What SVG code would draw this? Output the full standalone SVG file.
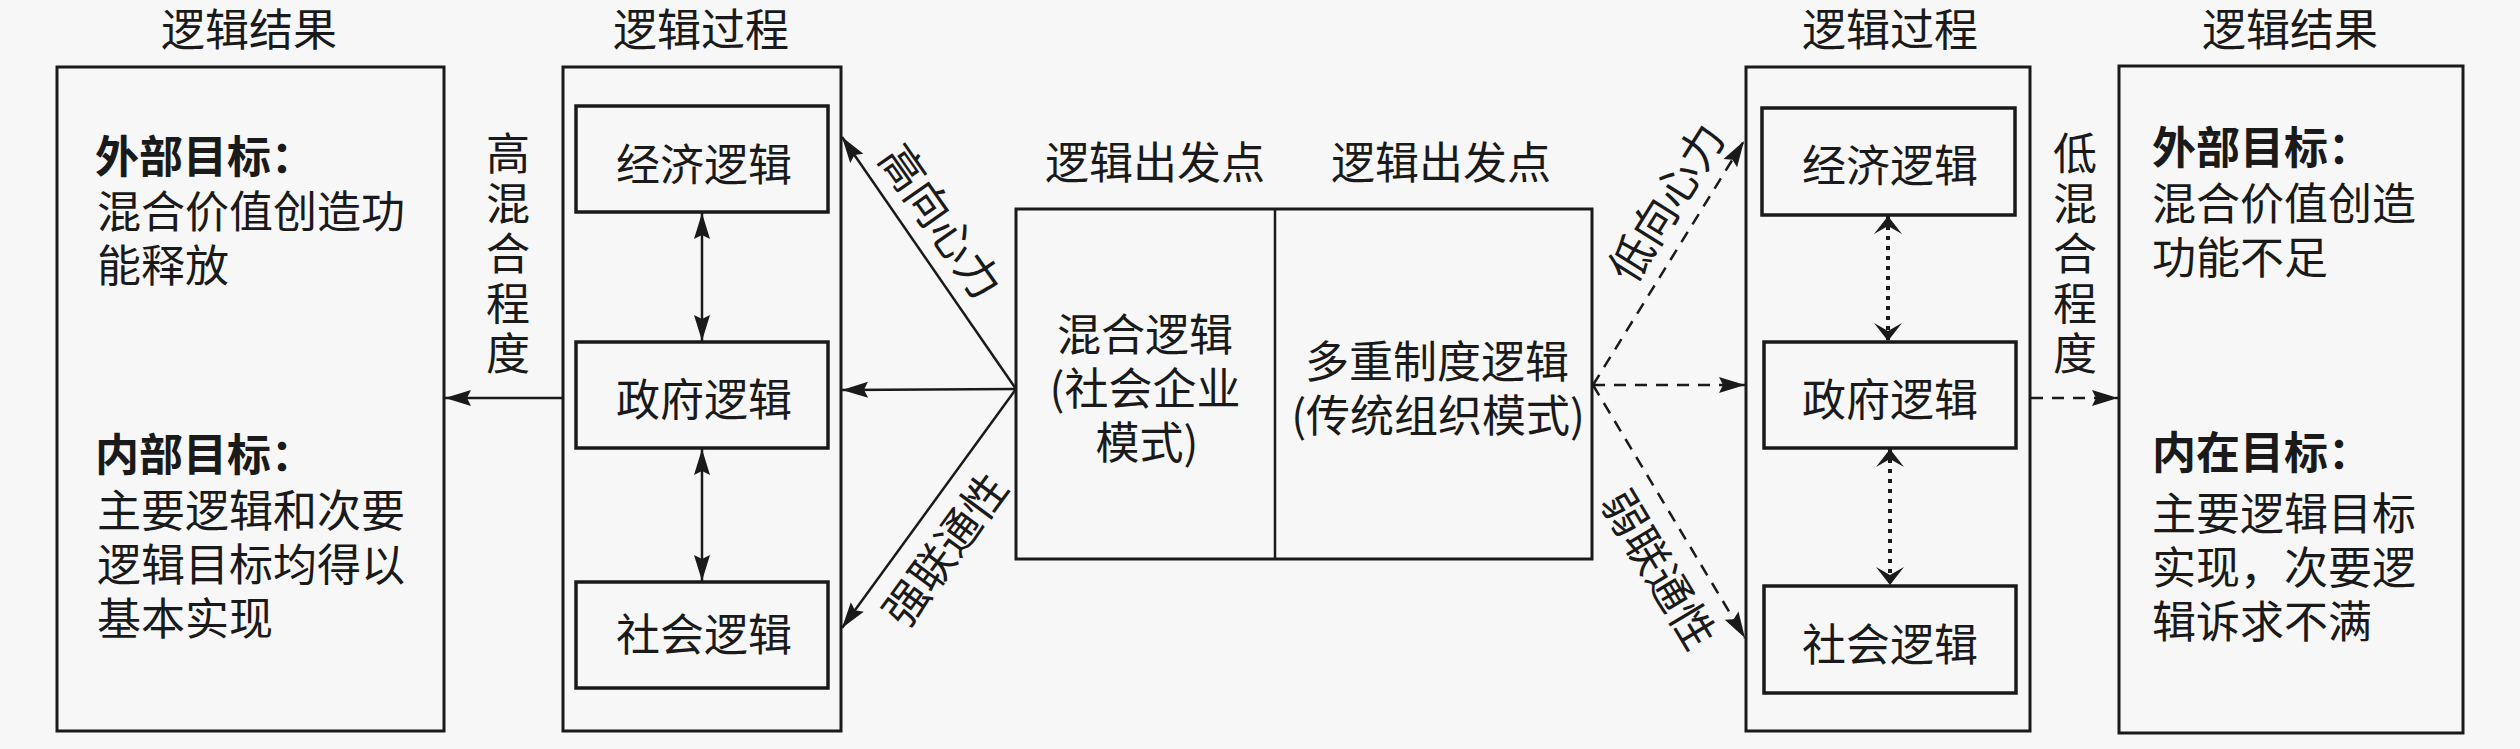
<svg xmlns="http://www.w3.org/2000/svg" width="2520" height="749" viewBox="0 0 2520 749">
<style>
.bg{fill:#f7f7f7}
.box{fill:#f7f7f7;stroke:#1a1a1a;stroke-width:3}
.ibox{fill:#f7f7f7;stroke:#1a1a1a;stroke-width:3.5}
.t{font-family:"Noto Sans CJK SC","Noto Sans CJK JP",sans-serif;font-size:44px;fill:#1a1a1a}
.m{text-anchor:middle}
.c{dominant-baseline:central}
.b{font-weight:bold}
.v{writing-mode:vertical-rl;letter-spacing:6px}
.ln{stroke:#1a1a1a;stroke-width:2.5;fill:none}
.dash{stroke-dasharray:12 9}
.dot{stroke-width:4;stroke-dasharray:4 6}
.ah{fill:#1a1a1a}
</style>
<defs>
<marker id="arr" viewBox="0 0 28 18" refX="27" refY="9" markerWidth="28" markerHeight="18" markerUnits="userSpaceOnUse" orient="auto-start-reverse">
<path class="ah" d="M27,9 L1,1 L5,9 L1,17 Z"/>
</marker>
<marker id="barb" viewBox="0 0 20 30" refX="19" refY="15" markerWidth="20" markerHeight="30" markerUnits="userSpaceOnUse" orient="auto-start-reverse">
<path class="ah" d="M19,15 L1,1 L9,15 L1,29 Z"/>
</marker>
</defs>
<rect class="bg" x="0" y="0" width="2520" height="749"/>

<g id="left-result">
<text class="t m" x="249" y="46">逻辑结果</text>
<rect class="box" x="57" y="67" width="387" height="664"/>
<text class="t b" x="95" y="173">外部目标：</text>
<text class="t"><tspan x="97" y="228">混合价值创造功</tspan><tspan x="97" y="282">能释放</tspan></text>
<text class="t b" x="95" y="471">内部目标：</text>
<text class="t"><tspan x="97" y="527">主要逻辑和次要</tspan><tspan x="97" y="581">逻辑目标均得以</tspan><tspan x="97" y="635">基本实现</tspan></text>
</g>

<g id="left-degree">
<text class="t v" x="508" y="131">高混合程度</text>
</g>

<g id="left-process">
<text class="t m" x="701" y="46">逻辑过程</text>
<rect class="box" x="563" y="67" width="278" height="664"/>
</g>
<g id="left-economic">
<rect class="ibox" x="576" y="106" width="252" height="106"/>
<text class="t m c" x="704" y="162">经济逻辑</text>
</g>
<g id="left-government">
<rect class="ibox" x="576" y="342" width="252" height="106"/>
<text class="t m c" x="704" y="397">政府逻辑</text>
</g>
<g id="left-social">
<rect class="ibox" x="576" y="582" width="252" height="106"/>
<text class="t m c" x="704" y="632">社会逻辑</text>
</g>

<g id="start">
<text class="t m" x="1155" y="179">逻辑出发点</text>
<text class="t m" x="1441" y="179">逻辑出发点</text>
<rect class="box" x="1016" y="209" width="576" height="350"/>
<line class="ln" x1="1275" y1="209" x2="1275" y2="559"/>
<text class="t m"><tspan x="1145" y="351">混合逻辑</tspan><tspan x="1145" y="405">(社会企业</tspan><tspan x="1147" y="459">模式)</tspan></text>
<text class="t m"><tspan x="1437" y="378">多重制度逻辑</tspan><tspan x="1438" y="432">(传统组织模式)</tspan></text>
</g>

<g id="right-process">
<text class="t m" x="1890" y="46">逻辑过程</text>
<rect class="box" x="1746" y="67" width="284" height="664"/>
</g>
<g id="right-economic">
<rect class="ibox" x="1762" y="108" width="253" height="107"/>
<text class="t m c" x="1890" y="163">经济逻辑</text>
</g>
<g id="right-government">
<rect class="ibox" x="1764" y="342" width="252" height="106"/>
<text class="t m c" x="1890" y="397">政府逻辑</text>
</g>
<g id="right-social">
<rect class="ibox" x="1764" y="586" width="252" height="107"/>
<text class="t m c" x="1890" y="642">社会逻辑</text>
</g>

<g id="right-degree">
<text class="t v" x="2075" y="131">低混合程度</text>
</g>

<g id="right-result">
<text class="t m" x="2290" y="46">逻辑结果</text>
<rect class="box" x="2119" y="66" width="344" height="667"/>
<text class="t b" x="2152" y="164">外部目标：</text>
<text class="t"><tspan x="2152" y="220">混合价值创造</tspan><tspan x="2152" y="274">功能不足</tspan></text>
<text class="t b" x="2152" y="469">内在目标：</text>
<text class="t"><tspan x="2152" y="530">主要逻辑目标</tspan><tspan x="2152" y="584">实现，次要逻</tspan><tspan x="2152" y="638">辑诉求不满</tspan></text>
</g>

<g id="connectors">
<line class="ln" x1="563" y1="398" x2="445" y2="398" marker-end="url(#arr)"/>
<line class="ln" x1="702" y1="213" x2="702" y2="341" marker-start="url(#arr)" marker-end="url(#arr)"/>
<line class="ln" x1="702" y1="449" x2="702" y2="581" marker-start="url(#arr)" marker-end="url(#arr)"/>
<line class="ln" x1="1016" y1="389" x2="842" y2="137" marker-end="url(#arr)"/>
<line class="ln" x1="1016" y1="389" x2="842" y2="390" marker-end="url(#arr)"/>
<line class="ln" x1="1016" y1="389" x2="842" y2="628" marker-end="url(#arr)"/>
<line class="ln dash" x1="1593" y1="385" x2="1744" y2="141" marker-end="url(#arr)"/>
<line class="ln dash" x1="1593" y1="385" x2="1745" y2="385" marker-end="url(#arr)"/>
<line class="ln dash" x1="1593" y1="385" x2="1745" y2="638" marker-end="url(#arr)"/>
<line class="ln dash" x1="2031" y1="398" x2="2118" y2="398" marker-end="url(#arr)"/>
<line class="ln dot" x1="1888" y1="216" x2="1888" y2="341" marker-start="url(#barb)" marker-end="url(#barb)"/>
<line class="ln dot" x1="1890" y1="449" x2="1890" y2="585" marker-start="url(#barb)" marker-end="url(#barb)"/>
<text class="t m c" transform="translate(943,220) rotate(55)">高向心力</text>
<text class="t m c" transform="translate(943,548) rotate(-53.7)">强联通性</text>
<text class="t m c" transform="translate(1664,201) rotate(-58)">低向心力</text>
<text class="t m c" transform="translate(1661,568) rotate(59)">弱联通性</text>
</g>
</svg>
